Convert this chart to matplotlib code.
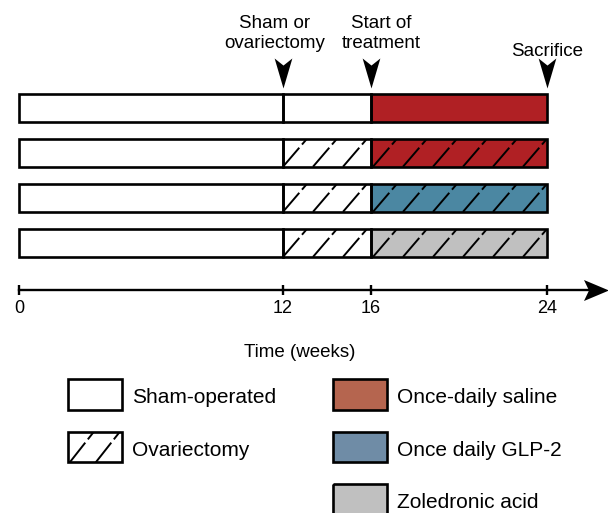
import numpy as np
import matplotlib.pyplot as plt
from matplotlib.path import Path

plt.rcParams['font.family'] = ['Liberation Sans', 'DejaVu Sans']
plt.rcParams['lines.scale_dashes'] = False

# study timeline (weeks)
surgery_week = 12
treatment_week = 16
end_week = 24
time_ticks = [0, 12, 16, 24]
events = [12, 16, 24]
event_labels = ['Sham or\novariectomy', 'Start of\ntreatment', 'Sacrifice']

# one row per group
ovariectomy = [False, True, True, True]
treatment_colors = ['#b02024', '#b02024', '#4b87a2', '#c0c0c0']

# legend entries
legend_labels = ['Sham-operated', 'Ovariectomy', 'Once-daily saline',
                 'Once daily GLP-2', 'Zoledronic acid']
legend_colors = ['white', 'white', '#b5654f', '#6f8ca6', '#c0c0c0']
legend_hatched = [False, True, False, False, False]

# ---- layout (pixels) ----
W, H = 608, 513
x0_px = 19          # pixel of week 0
ppw = 22.0          # pixels per week
row_top, row_pitch, bar_h = 93.6, 45.1, 28
axis_y = 290
edge_lw = 1.9
dash = (18, 3)

fig = plt.figure(figsize=(W / 100, H / 100), dpi=100)
ax = fig.add_axes([0, 0, 1, 1])
ax.set_xlim(-x0_px / ppw, (W - x0_px) / ppw)
ax.set_ylim(H, 0)
ax.axis('off')

lax = fig.add_axes([0, 0, 1, 1])
lax.set_xlim(0, W)
lax.set_ylim(H, 0)
lax.axis('off')


def hatch_lines(axis, left, right, top, height, spacing, run, clip):
    for xs in np.arange(left - spacing, right, spacing):
        ln, = axis.plot([xs, xs + run], [top + height, top], color='black',
                        lw=1.4, dashes=dash, zorder=2, solid_capstyle='butt')
        ln.set_clip_path(clip)


# ---- group bars ----
for i, (ovx, col) in enumerate(zip(ovariectomy, treatment_colors)):
    yc = row_top + i * row_pitch + bar_h / 2
    segs = [(0, surgery_week, 'white'),
            (surgery_week, treatment_week, 'white'),
            (treatment_week, end_week, col)]
    for a, b, c in segs:
        ax.barh(yc, b - a, left=a, height=bar_h, color=c, edgecolor='none', zorder=1)
    if ovx:
        clip = ax.barh(yc, end_week - surgery_week, left=surgery_week, height=bar_h,
                       color='none', edgecolor='none')[0]
        hatch_lines(ax, surgery_week, end_week, yc - bar_h / 2, bar_h,
                    30 / ppw, 24 / ppw, clip)
    for a, b, c in segs:
        ax.barh(yc, b - a, left=a, height=bar_h, fill=False, edgecolor='black',
                lw=edge_lw, zorder=3)

# ---- event arrows ----
down_arrow = Path([(0, -1), (-0.59, 1), (0, 0.53), (0.59, 1), (0, -1)],
                  [Path.MOVETO, Path.LINETO, Path.LINETO, Path.LINETO, Path.CLOSEPOLY])
ax.plot(events, [73] * len(events), ls='none', marker=down_arrow, ms=21.6,
        color='black', mew=0)
label_dx = [-8, 10, 0]
label_y = [15, 15, 43]
for e, lab, dx, ly in zip(events, event_labels, label_dx, label_y):
    ax.text(e + dx / ppw, ly, lab, ha='center', va='top', fontsize=13.5,
            linespacing=1.25)

# ---- time axis ----
right_arrow = Path([(1, 0), (-1, 0.84), (-0.6, 0), (-1, -0.84), (1, 0)],
                   [Path.MOVETO, Path.LINETO, Path.LINETO, Path.LINETO, Path.CLOSEPOLY])
ax.plot([0, 26.0], [axis_y, axis_y], color='black', lw=1.7)
ax.plot([(595.5 - x0_px) / ppw], [axis_y], marker=right_arrow, ms=18,
        color='black', mew=0)
ax.vlines(time_ticks, axis_y - 5, axis_y + 5, color='black', lw=1.7)
for t in time_ticks:
    ax.text(t, 300, str(t), ha='center', va='top', fontsize=13)
lax.text(300, 344, 'Time (weeks)', ha='center', va='top', fontsize=13.5)

# ---- legend ----
box_w, box_h, box_pitch = 54, 30.5, 52.5
col_x = [68.3, 333.3]
legend_slots = [(0, 0), (0, 1), (1, 0), (1, 1), (1, 2)]
for (c, r), lab, fc, hat in zip(legend_slots, legend_labels, legend_colors, legend_hatched):
    bx = col_x[c]
    by = 379.3 + r * box_pitch
    box = lax.bar(bx, box_h, width=box_w, bottom=by, align='edge', color=fc,
                  edgecolor='none', zorder=1)[0]
    if hat:
        hatch_lines(lax, bx + 1.5 + 26, bx + box_w, by, box_h, 26, 24, box)
    lax.bar(bx, box_h, width=box_w, bottom=by, align='edge', fill=False,
            edgecolor='black', lw=edge_lw, zorder=3)
    lax.text(bx + box_w + 10, by + box_h / 2 + 8.5, lab, ha='left', va='baseline',
             fontsize=15)

fig.savefig('out.png', dpi=100)
